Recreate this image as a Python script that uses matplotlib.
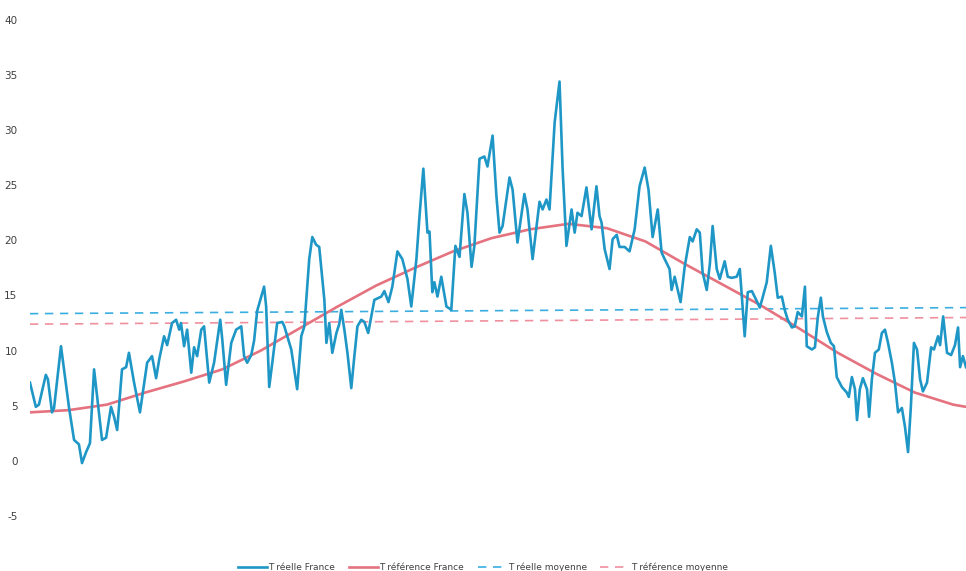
"""
Températures journalières France : réelle vs référence
"""

import matplotlib.pyplot as plt

plt.rcParams['axes.unicode_minus'] = False

# ── 1. Données ───────────────────────────────────────────────────
jours_reel = [
    0.0, 2.3, 3.5, 6.2, 7.0, 8.6, 9.4, 12.1, 15.2, 17.2, 19.1, 20.3, 21.9, 23.4,
    25.0, 26.2, 28.1, 29.7, 31.6, 32.8, 34.0, 35.9, 37.5, 38.6, 40.6, 42.9, 45.7,
    47.6, 49.2, 50.4, 52.3, 53.5, 55.4, 57.0, 58.2, 58.9, 60.1, 61.3, 62.9, 64.0,
    65.2, 66.8, 67.9, 69.9, 71.8, 74.2, 75.0, 76.5, 78.5, 80.4, 82.4, 83.5, 84.7,
    86.3, 87.4, 88.6, 91.3, 92.1, 93.3, 94.5, 96.4, 98.4, 99.2, 101.9, 104.2,
    105.8, 107.0, 108.9, 110.1, 111.6, 112.8, 114.8, 115.6, 116.7, 117.9, 119.5,
    120.6, 121.4, 122.6, 123.8, 125.3, 126.5, 127.7, 129.2, 130.4, 131.9, 134.3,
    137.0, 138.2, 139.8, 141.3, 143.3, 145.2, 147.2, 148.7, 150.7, 151.9, 153.4,
    155.0, 155.8, 156.9, 157.7, 158.9, 160.4, 162.4, 164.3, 165.9, 167.5, 169.4,
    170.6, 172.2, 173.3, 175.3, 177.2, 178.4, 180.4, 181.9, 183.1, 184.3, 187.0,
    188.2, 190.1, 192.8, 194.0, 196.0, 198.7, 199.9, 201.4, 202.6, 204.6, 206.5,
    207.7, 209.2, 211.2, 212.4, 213.5, 215.1, 217.0, 219.0, 220.9, 222.1, 222.9,
    224.1, 226.0, 227.2, 228.8, 229.9, 231.9, 233.8, 235.8, 237.7, 239.7, 241.2,
    242.8, 244.8, 246.3, 247.5, 249.4, 250.2, 251.4, 252.6, 253.7, 255.3, 257.3,
    258.4, 260.0, 261.2, 262.3, 263.9, 265.1, 266.2, 267.8, 269.0, 270.9, 272.1,
    273.6, 275.6, 276.8, 277.6, 278.7, 279.9, 281.5, 283.4, 284.6, 285.8, 287.3,
    288.9, 290.4, 291.6, 293.2, 294.3, 295.5, 297.1, 298.2, 299.4, 301.0, 302.2,
    302.9, 304.9, 306.1, 307.2, 308.4, 309.2, 310.7, 312.3, 313.5, 314.6, 316.6,
    318.5, 319.3, 320.5, 321.7, 322.5, 323.6, 324.8, 326.4, 327.2, 328.3, 329.5,
    331.0, 332.2, 333.4, 334.6, 336.1, 337.3, 338.5, 340.0, 341.2, 342.4, 343.5,
    344.7, 345.9, 347.1, 348.2, 349.8, 351.4, 352.5, 354.1, 354.9, 356.1, 357.6,
    359.2, 360.7, 361.9, 362.7, 363.8, 365.0,
]
t_reelle = [
    7.1, 4.9, 5.1, 7.8, 7.4, 4.4, 4.8, 10.4, 4.9, 1.9, 1.5, -0.2, 0.8, 1.6,
    8.3, 5.8, 1.9, 2.1, 4.9, 4.0, 2.8, 8.3, 8.5, 9.8, 7.1, 4.4, 8.9,
    9.5, 7.5, 9.2, 11.3, 10.5, 12.5, 12.8, 11.9, 12.5, 10.4, 11.9, 8.0, 10.3,
    9.5, 11.9, 12.2, 7.1, 8.9, 12.8, 11.0, 6.9, 10.7, 11.9, 12.2, 9.5, 8.9,
    9.6, 10.9, 13.6, 15.8, 14.0, 6.7, 8.9, 12.5, 12.6, 12.2, 10.1, 6.5,
    11.3, 12.2, 18.3, 20.3, 19.6, 19.4, 14.6, 10.7, 12.5, 9.8, 11.6,
    12.4, 13.7, 11.9, 9.8, 6.6, 9.5, 12.2, 12.8, 12.6, 11.6, 14.6,
    14.9, 15.4, 14.4, 15.8, 19.0, 18.3, 16.5, 14.0, 18.3, 22.2, 26.5,
    20.7, 20.8, 15.3, 16.2, 14.9, 16.7, 14.0, 13.7, 19.5, 18.5, 24.2,
    22.5, 17.6, 19.5, 27.4, 27.6, 26.7, 29.5, 24.0, 20.7, 21.3, 25.7,
    24.6, 19.8, 24.2, 22.8, 18.3, 23.5, 22.8, 23.7, 22.8, 30.7, 34.4,
    26.5, 19.5, 22.8, 20.7, 22.5, 22.2, 24.8, 21.0, 24.9, 22.2, 21.6,
    19.2, 17.4, 20.1, 20.5, 19.4, 19.4, 19.0, 21.0, 24.9, 26.6, 24.6,
    20.3, 22.8, 18.9, 18.3, 17.4, 15.5, 16.7, 15.5, 14.4, 17.6, 20.3,
    19.9, 21.0, 20.7, 17.1, 15.5, 17.8, 21.3, 17.4, 16.5, 18.1, 16.7,
    16.6, 16.7, 17.4, 14.9, 11.3, 15.3, 15.4, 14.5, 13.9, 14.9, 16.2,
    19.5, 17.1, 14.8, 14.9, 13.7, 12.8, 12.1, 12.2, 13.5, 13.1, 15.8,
    10.4, 10.1, 10.3, 13.0, 14.8, 13.1, 11.7, 10.7, 10.4, 7.6, 6.7,
    6.2, 5.8, 7.6, 6.5, 3.7, 6.5, 7.5, 6.5, 4.0, 7.4, 9.8,
    10.1, 11.6, 11.9, 10.7, 8.9, 7.1, 4.4, 4.8, 3.1, 0.8, 4.9,
    10.7, 10.1, 7.4, 6.3, 7.1, 10.3, 10.1, 11.3, 10.5, 13.1, 9.8,
    9.6, 10.5, 12.1, 8.5, 9.5, 8.5,
]

jours_ref = [0, 15, 30, 45, 60, 75, 90, 105, 120, 135, 150, 165, 180, 195,
             210, 225, 240, 255, 270, 285, 300, 315, 330, 345, 360, 365]
t_reference = [4.4, 4.6, 5.1, 6.2, 7.2, 8.3, 10.0, 12.0, 14.0, 15.9, 17.5, 19.0,
               20.2, 21.0, 21.5, 21.1, 19.9, 17.9, 16.0, 14.1, 12.0, 9.8, 7.9,
               6.2, 5.1, 4.9]

jours_moy = [0, 365]
t_reelle_moy = [13.35, 13.9]
t_reference_moy = [12.4, 13.0]

# ── 2. Graphique ──────────────────────────────────────────────────
fig = plt.figure(figsize=(9.66, 5.71), dpi=100)
ax = fig.add_axes([0.031, 0.0963, 0.969, 0.869])

ax.plot(jours_moy, t_reelle_moy, color='#3aaee0', lw=1.2,
        dashes=(5, 4), label='T réelle moyenne', zorder=2)
ax.plot(jours_moy, t_reference_moy, color='#f0909e', lw=1.2,
        dashes=(5, 4), label='T référence moyenne', zorder=2)
ax.plot(jours_ref, t_reference, color='#e5727f', lw=1.9,
        label='T référence France', zorder=3, solid_joinstyle='round')
ax.plot(jours_reel, t_reelle, color='#1f97c6', lw=1.9,
        label='T réelle France', zorder=4, solid_joinstyle='round')

ax.set_xlim(0, 365)
ax.set_ylim(-5, 40)
ax.set_yticks(range(-5, 41, 5))
ax.set_xticks([])
for s in ax.spines.values():
    s.set_visible(False)
ax.tick_params(axis='y', length=0, pad=9, labelsize=7.5, labelcolor='#404040')

h, l = ax.get_legend_handles_labels()
ordre = [3, 2, 0, 1]
fig.legend([h[i] for i in ordre], [l[i] for i in ordre], loc='center',
           bbox_to_anchor=(0.5, 0.007), ncol=4, frameon=False, fontsize=6.5,
           handlelength=3.2, columnspacing=1.5, handletextpad=0.15,
           labelcolor='#404040')

plt.savefig('out.png', dpi=100)
